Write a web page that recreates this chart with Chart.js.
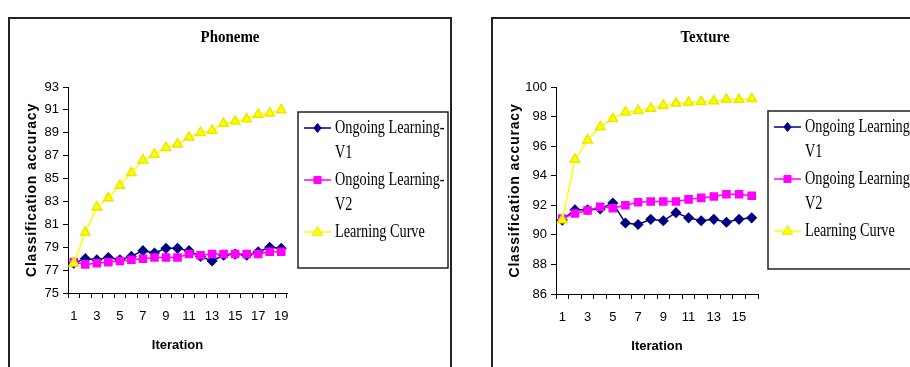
<!DOCTYPE html>
<html>
<head>
<meta charset="utf-8">
<script src="https://cdn.jsdelivr.net/npm/chart.js"></script>
<style>
  html, body { margin: 0; padding: 0; background: #fff; overflow: hidden; width: 910px; height: 367px; }
  .frame { position: absolute; border: 2px solid #222; border-bottom: none; background: #fff; }
  #frameA { left: 8px; top: 17px; width: 440px; height: 352px; }
  #frameB { left: 491px; top: 17px; width: 440px; height: 352px; }
  .frame canvas { position: absolute; left: 0; top: 0; }
</style>
</head>
<body>
<div class="frame" id="frameA"><canvas id="phoneme"></canvas></div>
<div class="frame" id="frameB"><canvas id="texture"></canvas></div>
<script>
// Phoneme data
const phonemeIter = [1,2,3,4,5,6,7,8,9,10,11,12,13,14,15,16,17,18,19];
const phonemeV1 = [77.6,78.0,77.9,78.1,77.9,78.2,78.7,78.5,78.9,78.9,78.7,78.2,77.8,78.3,78.4,78.3,78.6,79.0,78.9];
const phonemeV2 = [77.7,77.5,77.6,77.7,77.8,77.9,78.0,78.1,78.1,78.1,78.4,78.3,78.4,78.4,78.4,78.4,78.4,78.6,78.6];
const phonemeCurve = [77.6,80.3,82.5,83.3,84.4,85.5,86.6,87.1,87.7,88.0,88.6,89.0,89.2,89.8,90.0,90.2,90.6,90.7,91.0];

// Texture data
const textureIter = [1,2,3,4,5,6,7,8,9,10,11,12,13,14,15,16];
const textureV1 = [91.0,91.7,91.7,91.75,92.15,90.8,90.7,91.05,90.95,91.5,91.15,90.95,91.05,90.85,91.05,91.15];
const textureV2 = [91.1,91.45,91.65,91.9,91.8,92.0,92.2,92.25,92.25,92.25,92.4,92.5,92.6,92.75,92.75,92.65];
const textureCurve = [91.0,95.1,96.4,97.3,97.85,98.3,98.4,98.55,98.75,98.9,98.95,99.0,99.05,99.15,99.15,99.2];

const seriesNames = ["Ongoing Learning-\nV1", "Ongoing Learning-\nV2", "Learning Curve"];

function drawMarker(ctx, style, x, y, r, fill, stroke) {
  ctx.save();
  ctx.fillStyle = fill;
  ctx.strokeStyle = stroke;
  ctx.lineWidth = 1;
  ctx.beginPath();
  if (style === "rectRot") {
    ctx.moveTo(x, y - r); ctx.lineTo(x + r * 0.8, y); ctx.lineTo(x, y + r); ctx.lineTo(x - r * 0.8, y);
  } else if (style === "rect") {
    const s = r * Math.SQRT1_2;
    ctx.rect(x - s, y - s, 2 * s, 2 * s);
  } else {
    ctx.moveTo(x, y - r); ctx.lineTo(x + r * 0.95, y + r * 0.6); ctx.lineTo(x - r * 0.95, y + r * 0.6);
  }
  ctx.closePath();
  ctx.fill();
  ctx.stroke();
  ctx.restore();
}

// narrow serif text, like the condensed Times of the original
function narrowText(ctx, text, x, y, font, sx, align) {
  ctx.save();
  ctx.translate(x, y);
  ctx.scale(sx, 1);
  ctx.fillStyle = "#000";
  ctx.font = font;
  ctx.textAlign = align;
  ctx.textBaseline = "middle";
  ctx.fillText(text, 0, 0);
  ctx.restore();
}

// title + boxed legend drawn by hand
const boxLegend = {
  id: "boxLegend",
  afterDraw(chart, args, opts) {
    const ctx = chart.ctx;
    ctx.save();
    narrowText(ctx, opts.title, opts.titleX, opts.titleY, "bold 17px 'Liberation Serif'", 0.88, "center");

    const b = opts.box;
    ctx.strokeStyle = "#222";
    ctx.lineWidth = 1.5;
    ctx.strokeRect(b.x, b.y, b.w, b.h);

    let y = b.y + 16;
    chart.data.datasets.forEach(ds => {
      const lines = ds.label.split("\n");
      ctx.strokeStyle = ds.borderColor;
      ctx.lineWidth = 1.5;
      ctx.beginPath();
      ctx.moveTo(b.x + 6, y);
      ctx.lineTo(b.x + 33, y);
      ctx.stroke();
      drawMarker(ctx, ds.pointStyle, b.x + 19.5, y, ds.pointRadius, ds.pointBackgroundColor, ds.pointBorderColor);
      lines.forEach((t, i) => narrowText(ctx, t, b.x + 37, y + i * 25, "19px 'Liberation Serif'", 0.75, "left"));
      y += lines.length * 26;
    });
    ctx.restore();
  }
};

function spacedTitle(scale, spacing) {
  if (scale._spaced) return;
  const orig = scale.drawTitle;
  scale.drawTitle = function () {
    this.ctx.save();
    this.ctx.letterSpacing = spacing;
    orig.apply(this, arguments);
    this.ctx.restore();
  };
  scale._spaced = true;
}

function makeChart(id, o) {
  const canvas = document.getElementById(id);
  canvas.width = o.width;
  canvas.height = o.height;
  canvas.style.width = o.width + "px";
  canvas.style.height = o.height + "px";
  const xAxisH = 66;
  return new Chart(canvas, {
    type: "line",
    data: {
      labels: o.labels,
      datasets: [
        { label: seriesNames[0], data: o.v1, borderColor: "#000080", backgroundColor: "#000080",
          pointStyle: "rectRot", pointRadius: 4.5, pointBackgroundColor: "#000080", pointBorderColor: "#000080",
          borderWidth: 1.5, tension: 0, order: 2 },
        { label: seriesNames[1], data: o.v2, borderColor: "#FF00FF", backgroundColor: "#FF00FF",
          pointStyle: "rect", pointRadius: 5, pointBackgroundColor: "#FF00FF", pointBorderColor: "#FF00FF",
          borderWidth: 1.5, tension: 0, order: 1 },
        { label: seriesNames[2], data: o.curve, borderColor: "#FFFF00", backgroundColor: "#FFFF00",
          pointStyle: "triangle", pointRadius: 5.5, pointBackgroundColor: "#FFFF00", pointBorderColor: "#E8E800",
          borderWidth: 1.5, tension: 0, order: 0 }
      ]
    },
    options: {
      responsive: false,
      animation: false,
      devicePixelRatio: 1,
      layout: {
        padding: { left: 0, top: o.plot.top, right: o.width - o.plot.right, bottom: o.height - o.plot.bottom - xAxisH }
      },
      plugins: {
        legend: { display: false },
        tooltip: { enabled: false },
        boxLegend: { title: o.title, titleX: o.titleX, titleY: 19, box: o.legendBox }
      },
      scales: {
        x: {
          type: "category",
          offset: true,
          afterFit(scale) { scale.height = xAxisH; },
          border: { color: "#000", width: 1 },
          grid: { drawOnChartArea: false, drawTicks: true, tickLength: 5, color: "#000", offset: true },
          ticks: {
            autoSkip: false, maxRotation: 0, padding: 11, color: "#000",
            font: { family: "'Liberation Sans'", size: 13 },
            callback: (v, i) => (i % 2 === 0 ? o.labels[i] : "")
          },
          title: { display: true, text: "Iteration", color: "#000", padding: { top: 0, bottom: 6 },
            font: { family: "'Liberation Sans'", size: 13, weight: "bold" } }
        },
        y: {
          min: o.min, max: o.max,
          afterFit(scale) { scale.width = o.plot.left; spacedTitle(scale, "0.8px"); },
          border: { color: "#000", width: 1 },
          grid: { drawOnChartArea: false, drawTicks: true, tickLength: 5, color: "#000" },
          ticks: { stepSize: 2, padding: 4, color: "#000", font: { family: "'Liberation Sans'", size: 13 } },
          title: { display: true, text: "Classification accuracy", color: "#000", padding: { top: 14, bottom: 0 },
            font: { family: "'Liberation Sans'", size: 14, weight: "bold" } }
        }
      }
    },
    plugins: [boxLegend]
  });
}

makeChart("phoneme", {
  width: 440, height: 348, labels: phonemeIter, v1: phonemeV1, v2: phonemeV2, curve: phonemeCurve,
  min: 75, max: 93, title: "Phoneme", titleX: 220,
  plot: { left: 58, top: 68, right: 277, bottom: 274 },
  legendBox: { x: 288, y: 93, w: 150, h: 156 }
});

makeChart("texture", {
  width: 440, height: 348, labels: textureIter, v1: textureV1, v2: textureV2, curve: textureCurve,
  min: 86, max: 100, title: "Texture", titleX: 212,
  plot: { left: 63, top: 68, right: 265, bottom: 275 },
  legendBox: { x: 275, y: 92, w: 160, h: 158 }
});
</script>
</body>
</html>
